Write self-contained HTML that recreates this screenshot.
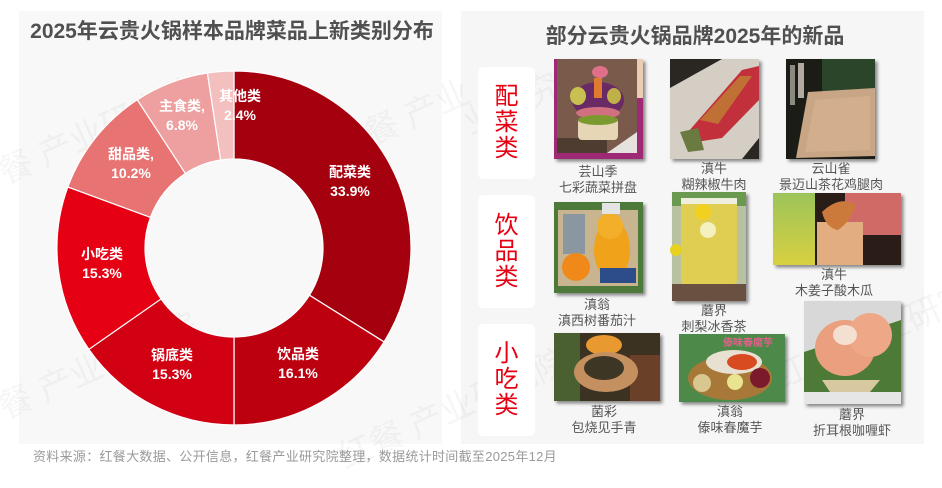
<!DOCTYPE html>
<html><head><meta charset="utf-8">
<style>
html,body{margin:0;padding:0;background:#fff;}
body{width:942px;height:488px;position:relative;overflow:hidden;font-family:"Liberation Sans","Noto Sans CJK SC",sans-serif;}
.abs{position:absolute;}
.panel{position:absolute;background:#f8f8f8;}
.t{position:absolute;text-align:center;white-space:nowrap;}
.lbl{position:absolute;width:120px;text-align:center;color:#fff;font-weight:bold;font-size:14px;line-height:19px;white-space:nowrap;}
.cap{position:absolute;width:160px;text-align:center;color:#555;font-size:13px;line-height:15.5px;white-space:nowrap;}
.cat{position:absolute;left:478px;width:57px;background:#fff;border-radius:5px;color:#e60012;font-size:24px;line-height:26px;text-align:center;display:flex;flex-direction:column;justify-content:center;align-items:center;}
</style></head>
<body>
<div class="panel" style="left:19px;top:11px;width:423px;height:433px;"></div>
<div class="panel" style="left:461px;top:11px;width:463px;height:433px;background:#f6f6f6;"></div>

<svg class="abs" style="left:0;top:0" width="942" height="488" viewBox="0 0 942 488">
<defs>
<filter id="sh" x="-10%" y="-10%" width="130%" height="130%"><feDropShadow dx="2.5" dy="2.5" stdDeviation="1.6" flood-color="#000" flood-opacity="0.45"/></filter>
<linearGradient id="g6" x1="0" y1="0" x2="0" y2="1"><stop offset="0" stop-color="#9cc45a"/><stop offset="1" stop-color="#d8d040"/></linearGradient>
</defs>
<!-- watermarks -->
<g fill="#000" fill-opacity="0.035" font-family="Liberation Sans,Noto Sans CJK SC,sans-serif" font-size="34">
<text transform="translate(5,185) rotate(-24)">餐 产业研究院</text>
<text transform="translate(5,420) rotate(-24)">餐 产业研究院</text>
<text transform="translate(345,470) rotate(-24)">红餐 产业研究院</text>
<text transform="translate(340,160) rotate(-24)">红餐 产业</text>
<text transform="translate(470,135) rotate(-24)">业研究院</text>
<text transform="translate(780,390) rotate(-24)">红餐 产业研究院</text>
</g>
<!-- donut -->
<g stroke="#fff" stroke-width="1.2">
<path d="M234,71 A177,177 0 0 1 384.04,341.90 L309.45,295.21 A89,89 0 0 0 234,159 Z" fill="#a5000e"/>
<path d="M384.04,341.90 A177,177 0 0 1 234,425 L234,337 A89,89 0 0 0 309.45,295.21 Z" fill="#bd0010"/>
<path d="M234,425 A177,177 0 0 1 88.86,349.31 L161.02,298.94 A89,89 0 0 0 234,337 Z" fill="#d10012"/>
<path d="M88.86,349.31 A177,177 0 0 1 67.83,186.99 L150.45,217.32 A89,89 0 0 0 161.02,298.94 Z" fill="#e50014"/>
<path d="M67.83,186.99 A177,177 0 0 1 137.29,99.76 L185.37,173.46 A89,89 0 0 0 150.45,217.32 Z" fill="#e87373"/>
<path d="M137.29,99.76 A177,177 0 0 1 207.41,73.0 L220.63,160.01 A89,89 0 0 0 185.37,173.46 Z" fill="#ee9f9f"/>
<path d="M207.41,73.0 A177,177 0 0 1 234,71 L234,159 A89,89 0 0 0 220.63,160.01 Z" fill="#f4bfbf"/>
</g>

<!-- img1 -->
<g filter="url(#sh)">
<rect x="554" y="59" width="89" height="100" fill="#9e2c74"/>
</g>
<rect x="557" y="59" width="86" height="39" fill="#e9cdb5"/>
<rect x="557" y="59" width="80" height="94" fill="#7a5a4a"/>
<rect x="557" y="138" width="50" height="15" fill="#4e3c30"/>
<polygon points="607,153 637,132 637,153" fill="#e6e2de"/>
<ellipse cx="598" cy="100" rx="26" ry="18" fill="#6a2a66"/>
<ellipse cx="578" cy="96" rx="8" ry="9" fill="#c8c050"/>
<ellipse cx="614" cy="96" rx="7" ry="8" fill="#c0b048"/>
<ellipse cx="600" cy="72" rx="8" ry="6" fill="#e0708a"/>
<rect x="594" y="78" width="8" height="20" fill="#e07a30"/>
<ellipse cx="598" cy="113" rx="22" ry="6" fill="#d07080"/>
<rect x="578" y="118" width="40" height="22" rx="4" fill="#e6d6b6"/>
<ellipse cx="598" cy="120" rx="20" ry="5" fill="#7a9a30"/>
<!-- img2 -->
<g filter="url(#sh)"><rect x="670" y="59" width="89" height="100" fill="#2c2622"/></g>
<polygon points="670,88 722,59 759,59 759,138 742,159 670,159" fill="#d4cec4"/>
<polygon points="688,132 742,70 759,66 759,100 722,138 696,142" fill="#c2303c"/>
<polygon points="700,120 740,76 752,76 718,124" fill="#c07034"/>
<polygon points="680,132 698,128 704,150 688,152" fill="#6a7a40"/>
<!-- img3 -->
<g filter="url(#sh)"><rect x="786" y="59" width="89" height="100" fill="#1a1e18"/></g>
<rect x="822" y="59" width="53" height="32" fill="#2a452a"/>
<polygon points="808,92 875,88 875,156 796,158" fill="#c7a585"/>
<polygon points="815,100 870,96 870,150 805,152" fill="#d2ae8c"/>
<rect x="790" y="65" width="5" height="40" fill="#8a8a80"/>
<rect x="798" y="63" width="6" height="35" fill="#b0aaa0"/>
<!-- img4 -->
<g filter="url(#sh)"><rect x="554" y="202" width="89" height="91" fill="#4e7a3a"/></g>
<rect x="558" y="210" width="80" height="76" fill="#c8b48e"/>
<rect x="563" y="214" width="22" height="40" fill="#8a96a0"/>
<ellipse cx="612" cy="250" rx="18" ry="30" fill="#f0a21a"/>
<circle cx="610" cy="226" r="13" fill="#f3ae2a"/>
<rect x="602" y="203" width="18" height="11" fill="#e4e4e4"/>
<circle cx="576" cy="267" r="14" fill="#f0881a"/>
<rect x="600" y="268" width="36" height="15" fill="#2c4c8a"/>
<!-- img5 -->
<g filter="url(#sh)"><rect x="672" y="192" width="74" height="109" fill="#b8c2a0"/></g>
<rect x="672" y="192" width="74" height="14" fill="#6a9a50"/>
<rect x="681" y="198" width="56" height="88" rx="6" fill="#e0ce52"/>
<rect x="681" y="198" width="56" height="6" fill="#eeeede"/>
<rect x="672" y="284" width="74" height="17" fill="#6a5040"/>
<circle cx="703" cy="212" r="8" fill="#f2d020"/>
<circle cx="708" cy="230" r="8" fill="#f4f0c0"/>
<circle cx="676" cy="250" r="6" fill="#e8d020"/>
<!-- img6 -->
<g filter="url(#sh)"><rect x="773" y="193" width="128" height="72" fill="#2a1a18"/></g>
<rect x="773" y="193" width="42" height="72" fill="url(#g6)"/>
<rect x="845" y="193" width="56" height="42" fill="#cf6a66"/>
<rect x="817" y="222" width="46" height="43" fill="#e2ae80"/>
<path d="M822,212 Q840,195 856,205 Q850,222 838,230 Q826,228 822,212 Z" fill="#cc7a3c"/>
<!-- img7 -->
<g filter="url(#sh)"><rect x="554" y="333" width="106" height="68" fill="#3a3020"/></g>
<rect x="554" y="333" width="26" height="68" fill="#4a6030"/>
<rect x="630" y="355" width="30" height="46" fill="#6a4028"/>
<ellipse cx="604" cy="345" rx="18" ry="10" fill="#e89a30"/>
<ellipse cx="606" cy="372" rx="32" ry="20" fill="#c49060"/>
<ellipse cx="604" cy="368" rx="20" ry="12" fill="#3e3624"/>
<!-- img8 -->
<g filter="url(#sh)"><rect x="679" y="334" width="106" height="68" fill="#4e8a48"/></g>
<ellipse cx="730" cy="378" rx="42" ry="22" fill="#a87838"/>
<ellipse cx="734" cy="362" rx="28" ry="12" fill="#e8e0d0"/>
<ellipse cx="742" cy="362" rx="15" ry="8" fill="#d84a20"/>
<ellipse cx="760" cy="378" rx="10" ry="10" fill="#7a1a2a"/>
<circle cx="735" cy="382" r="8" fill="#e8e490"/>
<circle cx="702" cy="383" r="9" fill="#d8c890"/>
<text x="748" y="346" font-size="10" font-weight="bold" fill="#e0608a" font-family="Liberation Sans,Noto Sans CJK SC,sans-serif" text-anchor="middle">傣味春魔芋</text>
<!-- img9 -->
<g filter="url(#sh)"><rect x="804" y="301" width="97" height="103" fill="#d8d8d8"/></g>
<polygon points="804,352 901,320 901,400 804,404" fill="#4e7a38"/>
<ellipse cx="845" cy="348" rx="30" ry="28" fill="#eaa07e"/>
<ellipse cx="870" cy="335" rx="22" ry="22" fill="#eea888"/>
<ellipse cx="845" cy="335" rx="12" ry="10" fill="#f4e0d0"/>
<rect x="804" y="392" width="97" height="12" fill="#e6e6e6"/>
<polygon points="822,380 880,380 870,392 830,392" fill="#d8c8a0"/>
</svg>

<!-- titles -->
<div class="t" style="left:19px;top:19px;width:426px;font-size:21px;line-height:26px;font-weight:bold;color:#505050;">2025年云贵火锅样本品牌菜品上新类别分布</div>
<div class="t" style="left:461px;top:24px;width:468px;font-size:21px;line-height:26px;font-weight:bold;color:#505050;">部分云贵火锅品牌2025年的新品</div>

<!-- donut labels -->
<div class="lbl" style="left:180px;top:87px;">其他类<br>2.4%</div>
<div class="lbl" style="left:122px;top:97px;">主食类,<br>6.8%</div>
<div class="lbl" style="left:71px;top:145px;">甜品类,<br>10.2%</div>
<div class="lbl" style="left:290px;top:163px;">配菜类<br>33.9%</div>
<div class="lbl" style="left:42px;top:245px;">小吃类<br>15.3%</div>
<div class="lbl" style="left:112px;top:346px;">锅底类<br>15.3%</div>
<div class="lbl" style="left:238px;top:345px;">饮品类<br>16.1%</div>

<!-- footer -->
<div class="t" style="left:33px;top:449px;font-size:13px;line-height:16px;color:#9a9a9a;letter-spacing:0.3px;">资料来源：红餐大数据、公开信息，红餐产业研究院整理，数据统计时间截至2025年12月</div>

<!-- category boxes -->
<div class="cat" style="top:67px;height:112px;"><span>配</span><span>菜</span><span>类</span></div>
<div class="cat" style="top:195px;height:113px;"><span>饮</span><span>品</span><span>类</span></div>
<div class="cat" style="top:324px;height:112px;"><span>小</span><span>吃</span><span>类</span></div>

<!-- captions -->
<div class="cap" style="left:518px;top:164px;">芸山季<br>七彩蔬菜拼盘</div>
<div class="cap" style="left:634px;top:161px;">滇牛<br>糊辣椒牛肉</div>
<div class="cap" style="left:751px;top:161px;">云山雀<br>景迈山茶花鸡腿肉</div>
<div class="cap" style="left:517px;top:297px;">滇翁<br>滇西树番茄汁</div>
<div class="cap" style="left:634px;top:303px;">蘑界<br>刺梨冰香茶</div>
<div class="cap" style="left:754px;top:267px;">滇牛<br>木姜子酸木瓜</div>
<div class="cap" style="left:524px;top:404px;">菌彩<br>包烧见手青</div>
<div class="cap" style="left:650px;top:404px;">滇翁<br>傣味春魔芋</div>
<div class="cap" style="left:772px;top:407px;">蘑界<br>折耳根咖喱虾</div>
</body></html>
